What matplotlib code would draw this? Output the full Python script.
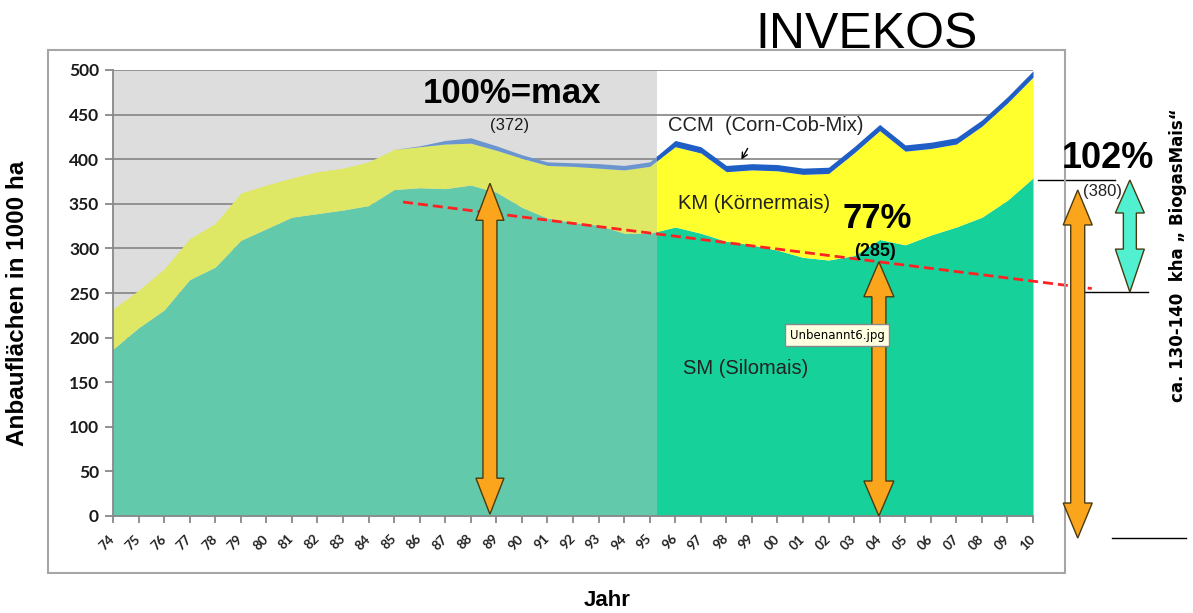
import matplotlib
matplotlib.use('Agg')
import matplotlib.pyplot as plt
import numpy as np
from matplotlib.patches import Rectangle, Polygon
from matplotlib.transforms import IdentityTransform

W, H = 1193, 613

# Jahre 1974 - 2010
years = ['74', '75', '76', '77', '78', '79', '80', '81', '82', '83', '84', '85',
         '86', '87', '88', '89', '90', '91', '92', '93', '94', '95', '96', '97',
         '98', '99', '00', '01', '02', '03', '04', '05', '06', '07', '08', '09', '10']
# Silomais (1000 ha)
sm = [187, 211, 231, 265, 279, 309, 322, 335, 339, 343, 348, 366,
      368, 367, 371, 363, 346, 334, 329, 326, 317, 317, 324, 317,
      308, 304, 298, 290, 287, 292, 310, 304, 315, 324, 335, 354, 379]
# Koernermais
km = [45, 42, 46, 46, 49, 53, 49, 44, 47, 47, 49, 45,
      46, 50, 47, 47, 55, 59, 63, 64, 71, 75, 90, 90,
      78, 84, 89, 93, 97, 115, 122, 105, 97, 93, 102, 109, 113]
# Corn-Cob-Mix
ccm = [0, 0, 0, 0, 0, 0, 0, 0, 0, 0, 0, 0,
       1, 4, 6, 5, 4, 4, 4, 5, 5, 5, 7, 7,
       7, 7, 7, 7, 7, 7, 7, 7, 7, 7, 7, 7, 7]

split = 21.3  # Grenze alter Datensatz / INVEKOS

fig = plt.figure(figsize=(W / 100, H / 100), dpi=100)
ax = fig.add_axes([113 / W, 1 - 516 / H, (1033 - 113) / W, (516 - 70) / H])

x = np.arange(len(years))
sm = np.array(sm)
top_km = sm + np.array(km)
top_ccm = top_km + np.array(ccm)

ax.axvspan(0, split, color='#DDDDDD', lw=0, zorder=0)

parts = [((0, split), '#62C9AA', '#DEE864', '#6A95CF'),
         ((split, 40), '#17D19B', '#FFFF2E', '#1F5EC4')]
for (x0, x1), c_sm, c_km, c_ccm in parts:
    clip = Rectangle((x0, -10), x1 - x0, 530, transform=ax.transData)
    for lo, hi, c in [(0, sm, c_sm), (sm, top_km, c_km), (top_km, top_ccm, c_ccm)]:
        coll = ax.fill_between(x, lo, hi, color=c, lw=0, zorder=1)
        coll.set_clip_path(clip)

ax.set_xlim(0, 36)
ax.set_ylim(0, 500)
ax.set_yticks(np.arange(0, 501, 50))
ax.set_xticks(x)
ax.set_xticklabels(years, rotation=45, ha='right', va='center', rotation_mode='anchor',
                   fontsize=9.5, fontweight='bold', family='Lato', color='#222222')
for lab in ax.get_yticklabels():
    lab.set_family('Lato')
    lab.set_fontweight('bold')
    lab.set_fontsize(12.5)
    lab.set_color('#1A1A1A')
ax.yaxis.grid(True, color='#8C8C8C', lw=1.3)
ax.set_axisbelow(True)
ax.tick_params(axis='y', length=6, width=1.3, color='#888888', pad=4)
ax.tick_params(axis='x', length=5, width=1.3, color='#888888', pad=10)
for s in ['top', 'right']:
    ax.spines[s].set_visible(False)
for s in ['left', 'bottom']:
    ax.spines[s].set_color('#888888')
    ax.spines[s].set_linewidth(1.3)

# rote Trendlinie
ax.plot([11.35, 38.3], [352, 255], color='#FF2222', lw=2, ls=(0, (3.6, 1.8)),
        clip_on=False, zorder=3)

# Hilfslinien rechts
ax.plot([36.2, 39.2], [376.7, 376.7], color='black', lw=1, clip_on=False, zorder=3)
ax.plot([37.5, 40.5], [251, 251], color='black', lw=1, clip_on=False, zorder=3)
ax.plot([39.1, 42.0], [-24.7, -24.7], color='black', lw=1, clip_on=False, zorder=3)


def double_arrow(xd, y0, y1, color, shaft=13, head_w=29, hl0=35, hl1=35):
    px, py0 = ax.transData.transform((xd, y0))
    _, py1 = ax.transData.transform((xd, y1))
    s, h = shaft / 2, head_w / 2
    pts = [(px, py1), (px + h, py1 - hl1), (px + s, py1 - hl1), (px + s, py0 + hl0),
           (px + h, py0 + hl0), (px, py0), (px - h, py0 + hl0), (px - s, py0 + hl0),
           (px - s, py1 - hl1), (px - h, py1 - hl1)]
    fig.add_artist(Polygon(pts, closed=True, transform=IdentityTransform(),
                           fc=color, ec='#4A3A10', lw=1, zorder=5))


double_arrow(14.75, 2, 373, '#FBA51C', shaft=14, head_w=28, hl0=36, hl1=37)
double_arrow(29.97, 0, 285, '#FBA51C', shaft=14, head_w=30, hl0=35, hl1=35)
double_arrow(37.75, -24.7, 365.5, '#FBA51C', shaft=14, head_w=29, hl0=35, hl1=35)
double_arrow(39.79, 251, 376.7, '#50F0D0', shaft=13, head_w=29, hl0=43, hl1=33)


def txt(px, py, s, **kw):
    return fig.text(px / W, 1 - py / H, s, **kw)


sans = 'Liberation Sans'
txt(867, 48, 'INVEKOS', fontsize=36, family=sans, ha='center', va='baseline')
txt(512, 103, '100%=max', fontsize=25, family=sans, fontweight='bold',
    ha='center', va='baseline')
txt(510, 126, '(372)', fontsize=12, family=sans, ha='center', va='center', color='#1A1A1A')
txt(668, 126, 'CCM  (Corn-Cob-Mix)', fontsize=14.5, family=sans, ha='left', va='center',
    color='#222222')
txt(678, 203, 'KM (Körnermais)', fontsize=14.5, family=sans, ha='left', va='center',
    color='#222222')
txt(842, 228, '77%', fontsize=25, family=sans, fontweight='bold', ha='left', va='baseline')
txt(875, 251, '(285)', fontsize=13, family=sans, fontweight='bold', ha='center', va='center')
txt(683, 369, 'SM (Silomais)', fontsize=14.5, family=sans, ha='left', va='center',
    color='#222222')
txt(1062, 168, '102%', fontsize=26, family=sans, fontweight='bold', ha='left', va='baseline')
txt(1083, 191, '(380)', fontsize=12, family=sans, ha='left', va='center', color='#222222')
txt(1178, 255, 'ca. 130-140  kha \u201e BiogasMais\u201c', fontsize=12, family='DejaVu Sans',
    fontweight='bold', rotation=90, ha='center', va='center')
txt(18, 303, 'Anbauflächen in 1000 ha', fontsize=17.5, family=sans, fontweight='bold',
    rotation=90, ha='center', va='center')
txt(607, 600, 'Jahr', fontsize=16, family=sans, fontweight='bold', ha='center', va='center')
txt(837, 335, 'Unbenannt6.jpg', fontsize=8.5, family='DejaVu Sans', ha='center', va='center',
    bbox=dict(boxstyle='square,pad=0.35', fc='#FFFFE1', ec='#888888', lw=1), zorder=6)

# kleiner Pfeil auf CCM
ax.annotate('', xy=(740, H - 162), xycoords='figure pixels',
            xytext=(749, H - 146), textcoords='figure pixels',
            arrowprops=dict(arrowstyle='->', color='black', lw=1))

# Rahmen
fig.add_artist(Rectangle((48 / W, 1 - 573 / H), (1065 - 48) / W, (573 - 50) / H,
                         transform=fig.transFigure, fill=False, ec='#A6A6A6', lw=1.5))

fig.savefig('out.png', dpi=100)
